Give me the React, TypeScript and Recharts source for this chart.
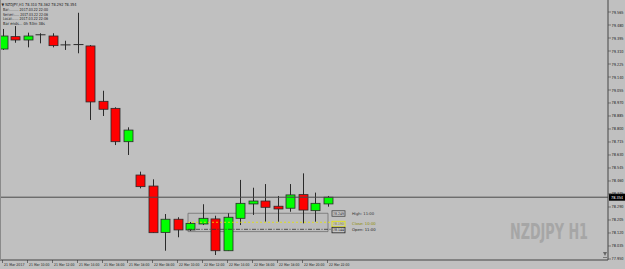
import React from "react"
import {
  ComposedChart,
  Bar,
  XAxis,
  YAxis,
  ReferenceLine,
  ReferenceArea,
  ReferenceDot,
} from "recharts"

// bar index -> hourly candles, NZDJPY H1 (21-22 Mar 2017)
const barIndex = [
  0, 1, 2, 3, 4, 5, 6, 7, 8, 9, 10, 11, 12, 13, 14, 15, 16, 17, 18, 19, 20, 21, 22, 23, 24, 25, 26,
]

const opens = [
  79.323, 79.404, 79.382, 79.416, 79.408, 79.35, 79.352, 79.343, 78.981, 78.935, 78.717, 78.499, 78.427,
  78.124, 78.21, 78.14, 78.179, 78.212, 78.004, 78.216, 78.31, 78.329, 78.295, 78.282, 78.371, 78.266, 78.31,
]
const highs = [
  79.454, 79.473, 79.43, 79.426, 79.426, 79.377, 79.56, 79.349, 79.05, 78.942, 78.811, 78.521, 78.471,
  78.244, 78.223, 78.192, 78.308, 78.233, 78.249, 78.467, 78.416, 78.44, 78.362, 78.44, 78.51, 78.384, 78.362,
]
const lows = [
  79.317, 79.364, 79.334, 79.36, 79.334, 79.317, 79.295, 78.859, 78.885, 78.695, 78.63, 78.412, 78.12,
  78.004, 78.092, 78.133, 78.172, 77.976, 78.002, 78.172, 78.238, 78.194, 78.194, 78.259, 78.183, 78.194, 78.292,
]
const closes = [
  79.408, 79.382, 79.408, 79.414, 79.345, 79.348, 79.35, 78.977, 78.929, 78.717, 78.793, 78.423, 78.122,
  78.21, 78.14, 78.183, 78.216, 78.004, 78.223, 78.314, 78.329, 78.288, 78.277, 78.369, 78.27, 78.314, 78.354,
]

// time labels every second bar
const timeTicks = [0, 2, 4, 6, 8, 10, 12, 14, 16, 18, 20, 22, 24, 26]
const timeLabels = [
  "21 Mar 2017",
  "21 Mar 10:00",
  "21 Mar 12:00",
  "21 Mar 14:00",
  "21 Mar 16:00",
  "21 Mar 18:00",
  "22 Mar 08:00",
  "22 Mar 10:00",
  "22 Mar 12:00",
  "22 Mar 14:00",
  "22 Mar 16:00",
  "22 Mar 18:00",
  "22 Mar 20:00",
  "22 Mar 22:00",
]

const priceTicks = [
  79.565, 79.48, 79.395, 79.31, 79.225, 79.14, 79.055, 78.97, 78.885, 78.8, 78.715, 78.63, 78.545, 78.46,
  78.375, 78.29, 78.205, 78.12, 78.035, 77.95,
]

const lastPrice = 78.354
const boxHigh = 78.249
const boxLow = 78.129
const closeLevel = 78.19
const openLevel = 78.144

const data = barIndex.map((i) => ({
  i,
  range: [lows[i], highs[i]],
  open: opens[i],
  high: highs[i],
  low: lows[i],
  close: closes[i],
}))

const FONT = "'DejaVu Sans', sans-serif"

function Candle(props: any) {
  const { x, y, width, height, payload } = props
  const { open, close, high, low } = payload
  const top = Math.min(y, y + height)
  const h = Math.abs(height)
  const py = (v: number) => top + ((high - v) / (high - low)) * h
  const cx = Math.round(x + width / 2) + 0.5
  const yo = py(open)
  const yc = py(close)
  const bodyTop = Math.min(yo, yc)
  const bodyH = Math.abs(yc - yo)
  const bull = close >= open
  return (
    <g>
      <line x1={cx} x2={cx} y1={top} y2={top + h} stroke="#2a2a2a" strokeWidth={1} />
      {bodyH < 1.5 ? (
        <line x1={cx - 5} x2={cx + 5} y1={yo} y2={yo} stroke="#2a2a2a" strokeWidth={1} />
      ) : (
        <rect
          x={cx - 4.5}
          y={bodyTop}
          width={9}
          height={bodyH}
          fill={bull ? "#00ff00" : "#ff0000"}
          stroke="#2a2a2a"
          strokeWidth={0.8}
        />
      )}
    </g>
  )
}

function TimeTick(props: any) {
  const { x, y, index } = props
  return (
    <g>
      <line x1={x} x2={x} y1={y} y2={y + 3} stroke="#333" strokeWidth={0.6} />
      <text
        x={x + 1.5}
        y={y + 5.5}
        fontSize={3.8}
        fontFamily={FONT}
        fill="#222"
        textLength={20.5}
        lengthAdjust="spacingAndGlyphs"
      >
        {timeLabels[index]}
      </text>
    </g>
  )
}

function PriceTick(props: any) {
  const { x, y, payload } = props
  return (
    <text
      x={x + 0.5}
      y={y + 1.5}
      fontSize={4.2}
      fontFamily={FONT}
      fill="#222"
      textLength={12}
      lengthAdjust="spacingAndGlyphs"
    >
      {payload.value.toFixed(3)}
    </text>
  )
}

function LastPriceTag(props: any) {
  const vb = props.viewBox || {}
  const x = (vb.x || 0) + (vb.width || 0)
  const y = vb.y || 0
  return (
    <g>
      <rect x={x + 1} y={y - 3.5} width={16} height={7} fill="#000" />
      <text
        x={x + 3}
        y={y + 1.5}
        fontSize={4.2}
        fontFamily={FONT}
        fill="#fff"
        textLength={12}
        lengthAdjust="spacingAndGlyphs"
      >
        {lastPrice.toFixed(3)}
      </text>
    </g>
  )
}

function LevelTag(props: any) {
  const { cx, cy, price, caption, stroke, color } = props
  return (
    <g>
      <rect x={cx} y={cy - 2.5} width={13} height={5.5} fill="#c4c4c4" stroke={stroke} strokeWidth={0.8} />
      <text
        x={cx + 1}
        y={cy + 1.6}
        fontSize={3.6}
        fontFamily={FONT}
        fill={color}
        textLength={11}
        lengthAdjust="spacingAndGlyphs"
      >
        {price.toFixed(3)}
      </text>
      <text x={cx + 20} y={cy + 1.6} fontSize={3.8} fontFamily={FONT} fill={color}>
        {caption}
      </text>
    </g>
  )
}

export default function App() {
  return (
    <div style={{ position: "fixed", left: 0, top: 0, width: 625, height: 269, background: "#c0c0c0" }}>
      <ComposedChart width={625} height={269} data={data} margin={{ top: 0, right: 0, bottom: 0, left: 0 }}>
        <XAxis
          dataKey="i"
          type="number"
          domain={[-0.2, 48.44]}
          ticks={timeTicks}
          interval={0}
          height={9}
          tick={<TimeTick />}
          tickSize={0}
          tickMargin={0}
          tickLine={false}
          axisLine={{ stroke: "#444", strokeWidth: 1 }}
          allowDataOverflow
        />
        <YAxis
          orientation="right"
          type="number"
          domain={[77.9434, 79.6435]}
          ticks={priceTicks}
          interval={0}
          width={17}
          tick={<PriceTick />}
          tickSize={3}
          tickMargin={0}
          tickLine={{ stroke: "#444", strokeWidth: 0.6 }}
          axisLine={{ stroke: "#444", strokeWidth: 1 }}
          allowDataOverflow
        />
        <ReferenceArea
          x1={14.84}
          x2={26.04}
          y1={boxLow}
          y2={boxHigh}
          fill="#b4b4b4"
          fillOpacity={0.35}
          stroke="#6e6e6e"
          strokeWidth={0.8}
        />
        <ReferenceLine
          segment={[
            { x: 14.84, y: closeLevel },
            { x: 26.5, y: closeLevel },
          ]}
          stroke="#e6e600"
          strokeDasharray="2 2"
          strokeWidth={0.8}
        />
        <ReferenceLine
          segment={[
            { x: 14.84, y: openLevel },
            { x: 26.5, y: openLevel },
          ]}
          stroke="#333"
          strokeDasharray="4 1.5 1 1.5"
          strokeWidth={0.8}
        />
        <ReferenceLine y={lastPrice} stroke="#4a4a4a" strokeWidth={1} label={<LastPriceTag />} />
        <Bar dataKey="range" barSize={9} shape={<Candle />} isAnimationActive={false} />
        <ReferenceDot
          x={26.36}
          y={boxHigh}
          r={0}
          shape={(p: any) => <LevelTag {...p} price={boxHigh} caption="High: 11:00" stroke="#444" color="#333" />}
        />
        <ReferenceDot
          x={26.36}
          y={closeLevel}
          r={0}
          shape={(p: any) => <LevelTag {...p} cy={p.cy + 1.5} price={closeLevel} caption="Close: 10:00" stroke="#e6e600" color="#8c8c00" />}
        />
        <ReferenceDot
          x={26.36}
          y={openLevel}
          r={0}
          shape={(p: any) => <LevelTag {...p} cy={p.cy + 0.5} price={openLevel} caption="Open: 11:00" stroke="#222" color="#222" />}
        />
      </ComposedChart>
      <svg
        width={625}
        height={269}
        style={{ position: "absolute", left: 0, top: 0, pointerEvents: "none" }}
      >
        <line x1={0.5} x2={0.5} y1={0} y2={260} stroke="#8a8a8a" strokeWidth={1} />
        <g fontFamily={FONT} fill="#222" fontSize={4} lengthAdjust="spacingAndGlyphs">
          <text x={1.5} y={5.5} textLength={75} lengthAdjust="spacingAndGlyphs">
            ▼ NZDJPY,H1 78.310 78.362 78.292 78.354
          </text>
          <text x={3} y={11} textLength={45} lengthAdjust="spacingAndGlyphs">
            Bar:......... 2017.03.22 22:00
          </text>
          <text x={3} y={15.5} textLength={45} lengthAdjust="spacingAndGlyphs">
            Server:..... 2017.03.22 22:06
          </text>
          <text x={3} y={20} textLength={45} lengthAdjust="spacingAndGlyphs">
            Local:...... 2017.03.22 22:06
          </text>
          <text x={3} y={24.5} textLength={42} lengthAdjust="spacingAndGlyphs">
            Bar ends... 0h 53m 38s
          </text>
        </g>
        <text
          x={510}
          y={239}
          fontSize={21}
          fontWeight="bold"
          fontFamily="'DejaVu Sans Condensed', 'Liberation Sans Narrow', sans-serif"
          fill="#a6a6a6"
          textLength={78}
          lengthAdjust="spacingAndGlyphs"
        >
          NZDJPY H1
        </text>
        <polygon points="603,252 607,252 605,256" fill="#666" />
        <line x1={603} x2={607} y1={257.5} y2={257.5} stroke="#666" strokeWidth={0.8} />
      </svg>
    </div>
  )
}
